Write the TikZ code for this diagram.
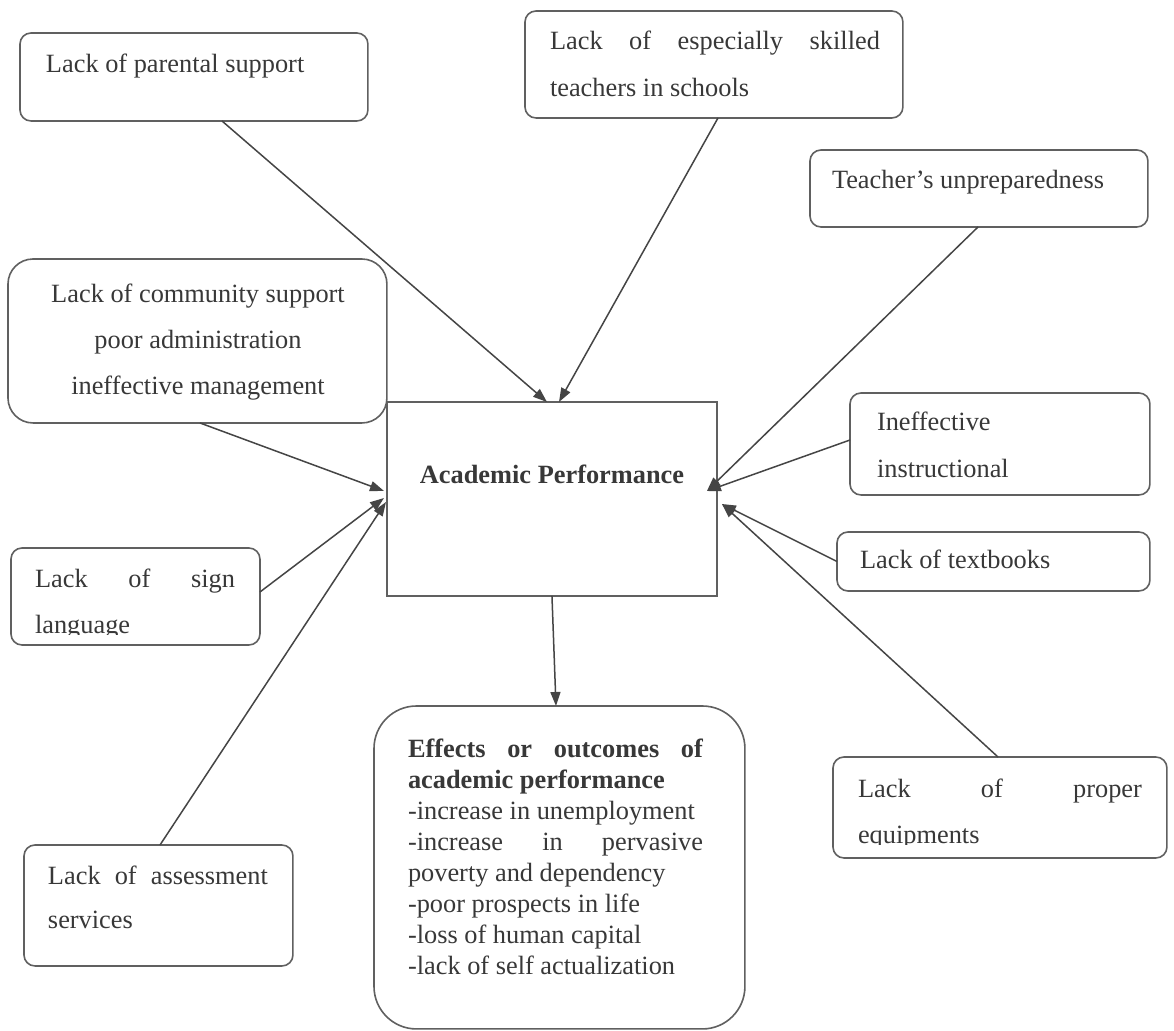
\documentclass[tikz,border=0pt]{standalone}
\usepackage{fontspec}
\setmainfont{Liberation Serif}
\usetikzlibrary{arrows.meta,calc}
\definecolor{boxc}{HTML}{606060}
\definecolor{linec}{HTML}{454545}
\definecolor{txtc}{HTML}{383838}
\begin{document}
\begin{tikzpicture}[x=0.02cm,y=-0.02cm,
  box/.style={draw=boxc, line width=0.032cm, rounded corners=0.22cm, anchor=north west, inner sep=0pt, outer sep=0pt},
  txt/.style={text=txtc, font=\fontsize{15}{18}\selectfont, inner sep=0pt, outer sep=0pt, anchor=base west},
  ctxt/.style={txt, anchor=base},
  conn/.style={draw=linec, line width=0.03cm, -{Triangle[length=0.28cm,width=0.2cm]}}]
\useasboundingbox[fill=white] (0,0) rectangle (1174,1031);

% boxes
\node[box, minimum width=6.96cm, minimum height=1.76cm] (par) at (20,33) {};
\node[box, minimum width=7.56cm, minimum height=2.14cm] (skl) at (525,11) {};
\node[box, minimum width=6.76cm, minimum height=1.54cm] (tch) at (810,150) {};
\node[box, minimum width=7.58cm, minimum height=3.28cm, rounded corners=0.5cm] (com) at (8,259) {};
\node[box, minimum width=6.6cm, minimum height=3.88cm, rounded corners=0pt] (ap) at (387,402) {};
\node[box, minimum width=6cm, minimum height=2.04cm] (ins) at (850,393) {};
\node[box, minimum width=6.26cm, minimum height=1.18cm] (txb) at (837,532) {};
\node[box, minimum width=4.98cm, minimum height=1.94cm] (sgn) at (11,548) {};
\node[box, minimum width=5.38cm, minimum height=2.42cm] (ass) at (24,845) {};
\node[box, minimum width=6.68cm, minimum height=2.02cm] (eqp) at (833,757) {};
\node[box, minimum width=7.42cm, minimum height=6.46cm, rounded corners=0.85cm] (eff) at (374,706) {};

% texts
\node[txt] (parT) at (46,72) {Lack of parental support};
\node[txt] (sklT1) at (550,50) {\makebox[6.6cm][s]{Lack of especially skilled}};
\node[txt] (sklT2) at (550,96) {teachers in schools};
\node[txt] (tchT) at (832,188) {Teacher’s unpreparedness};
\node[ctxt] (comT1) at (198,302) {Lack of community support};
\node[ctxt] (comT2) at (198,348) {poor administration};
\node[ctxt] (comT3) at (198,394) {ineffective management};
\node[ctxt] (apT) at (552,483) {\bfseries Academic Performance};
\node[txt] (insT1) at (877,430) {Ineffective};
\node[txt] (insT2) at (877,477) {instructional};
\node[txt] (txbT) at (860,568) {Lack of textbooks};
\node[txt] (sgnT1) at (35,587) {\makebox[4cm][s]{Lack of sign}};
\begin{scope}
  \clip (20,600) rectangle (250,634);
  \node[txt] (sgnT2) at (35,633) {language};
\end{scope}
\node[txt] (assT1) at (48,884) {\makebox[4.4cm][s]{Lack of assessment}};
\node[txt] (assT2) at (48,928) {services};
\node[txt] (eqpT1) at (858,797) {\makebox[5.68cm][s]{Lack of proper}};
\begin{scope}
  \clip (845,815) rectangle (1150,844);
  \node[txt] (eqpT2) at (858,843) {equipments};
\end{scope}
\node[txt] (eff1) at (408,757) {\bfseries\makebox[5.9cm][s]{Effects or outcomes of}};
\node[txt] (eff2) at (408,788) {\bfseries academic performance};
\node[txt] (eff3) at (408,819) {-increase in unemployment};
\node[txt] (eff4) at (408,850) {\makebox[5.9cm][s]{-increase in pervasive}};
\node[txt] (eff5) at (408,881) {poverty and dependency};
\node[txt] (eff6) at (408,912) {-poor prospects in life};
\node[txt] (eff7) at (408,943) {-loss of human capital};
\node[txt] (eff8) at (408,974) {-lack of self actualization};

% connectors
\draw[conn] ($(par.south west)+(202,0)$) -- ($(ap.north west)+(160,0)$);
\draw[conn] ($(skl.south west)+(193,0)$) -- ($(ap.north west)+(172,0)$);
\draw[conn] ($(tch.south west)+(168,0)$) -- ($(ap.north east)+(-10,89)$);
\draw[conn] ($(ins.north west)+(0,47)$) -- ($(ap.north east)+(-10,89)$);
\draw[conn] (txb.west) -- ($(ap.north east)+(5,102)$);
\draw[conn] ($(eqp.north west)+(165,0)$) -- ($(ap.north east)+(5,102)$);
\draw[conn] ($(com.south west)+(192,0)$) -- ($(ap.north west)+(-3,89)$);
\draw[conn] ($(sgn.north east)+(0,44)$) -- ($(ap.north west)+(-3,96)$);
\draw[conn] ($(ass.north west)+(136,0)$) -- ($(ap.north west)+(-1,100)$);
\draw[conn] (ap.south) -- ($(eff.north west)+(182,0)$);
\end{tikzpicture}
\end{document}
